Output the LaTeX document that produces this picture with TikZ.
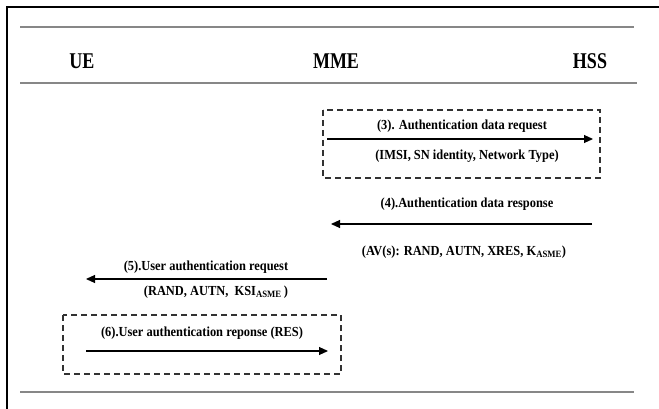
\documentclass[tikz,border=0pt]{standalone}
\usepackage{fontspec}
\setmainfont{Liberation Serif}
\newfontfamily\hdrfont[FakeStretch=0.8]{Liberation Serif}
\newfontfamily\lblfont[FakeStretch=0.9]{Liberation Serif}
\usetikzlibrary{arrows.meta}
\definecolor{rulegray}{RGB}{135,135,135}
\definecolor{dashgray}{RGB}{50,50,50}
\tikzset{
  hdr/.style={font=\hdrfont\fontsize{22.5}{26}\selectfont\bfseries, inner sep=0pt},
  lbl/.style={font=\lblfont\fontsize{13.8}{16}\selectfont\bfseries, inner sep=0pt},
  rulel/.style={draw=rulegray, line width=1.6pt},
  dbox/.style={draw=dashgray, line width=1.2pt, dash pattern=on 6pt off 4pt},
  msg/.style={draw=black, line width=1.1pt, -{Triangle[length=9pt,width=8pt]}},
}
\begin{document}
\begin{tikzpicture}[x=1pt,y=-1pt]
\useasboundingbox (0,0) rectangle (659,409);
% frame
\draw[line width=2.6pt] (7,412) -- (7,7) -- (662,7);
% rules
\draw[rulel] (20,27) -- (634,27);
\draw[rulel] (20,83) -- (637,83);
\draw[rulel] (20,392) -- (634,392);
% headers
\node[hdr] (ue)  at (82,61)  {UE};
\node[hdr] (mme) at (336,61) {MME};
\node[hdr] (hss) at (590,61) {HSS};
% dashed boxes
\draw[dbox] (323,110) rectangle (600,178);
\draw[dbox] (63,315) rectangle (341,374);
% message endpoints
\coordinate (a3s) at (327,139); \coordinate (a3e) at (593,139);
\coordinate (a4s) at (592,224); \coordinate (a4e) at (331,224);
\coordinate (a5s) at (327,279); \coordinate (a5e) at (86,279);
\coordinate (a6s) at (86,351);  \coordinate (a6e) at (328,351);
\draw[msg] (a3s) -- (a3e);
\draw[msg] (a4s) -- (a4e);
\draw[msg] (a5s) -- (a5e);
\draw[msg] (a6s) -- (a6e);
% labels
\node[lbl] (t3)  at (462,126) {(3). Authentication data request};
\node[lbl] (t3b) at (467,156) {(IMSI, SN identity, Network Type)};
\node[lbl] (t4)  at (467,204) {(4).Authentication data response};
\node[lbl] (t4b) at (464,252) {(AV(s): RAND, AUTN, XRES, K\textsubscript{ASME})};
\node[lbl] (t5)  at (206,267) {(5).User authentication request};
\node[lbl] (t5b) at (216,292) {(RAND, AUTN,\ \ KSI\textsubscript{ASME}\,)};
\node[lbl] (t6)  at (202,333) {(6).User authentication reponse (RES)};
\end{tikzpicture}
\end{document}
